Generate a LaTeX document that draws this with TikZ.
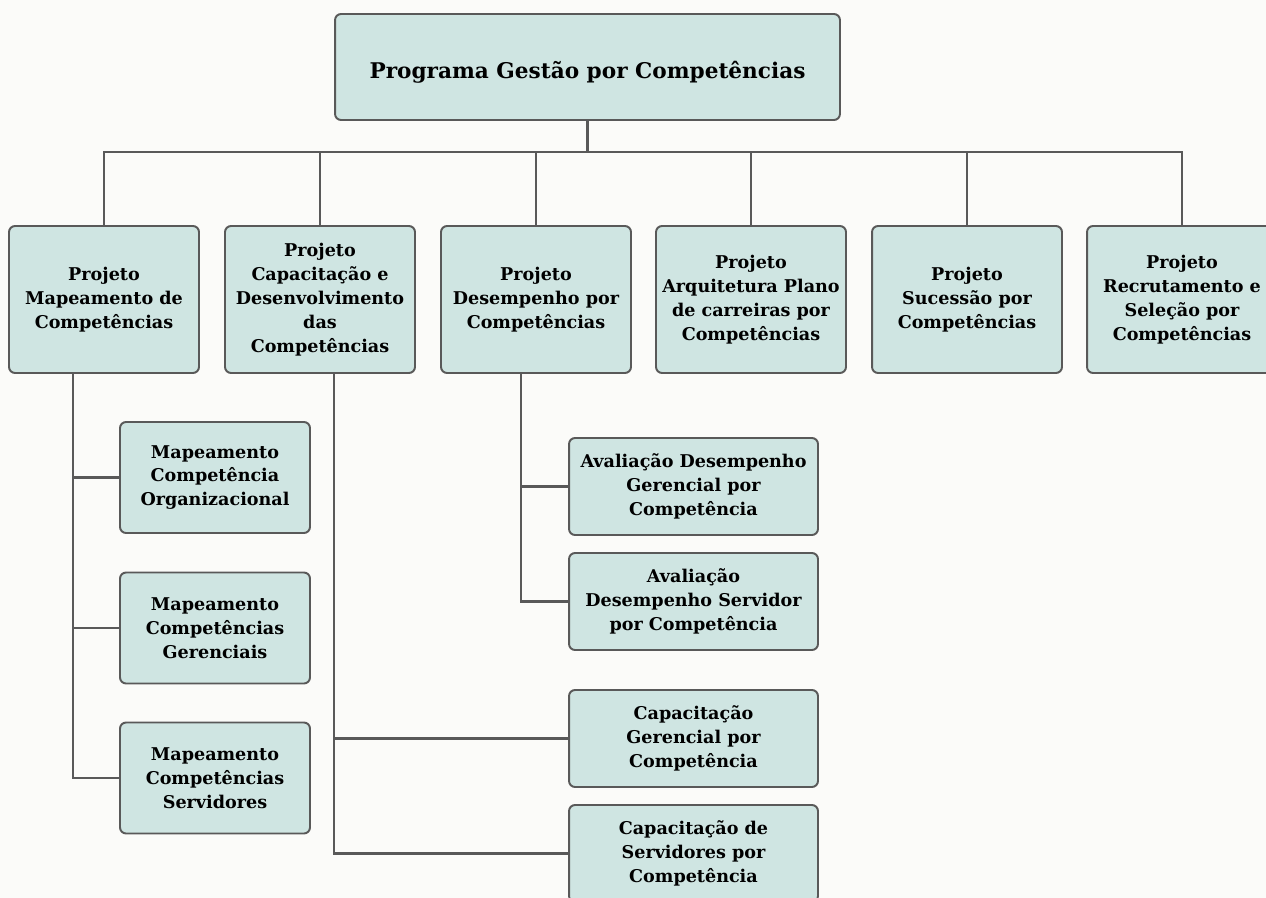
\documentclass[tikz,border=0pt]{standalone}
\usepackage{fontspec}
\setmainfont{DejaVu Serif}
\usepackage{tikz}
\usetikzlibrary{calc,positioning}
\definecolor{boxfill}{HTML}{CFE5E2}
\definecolor{boxline}{HTML}{595959}
\definecolor{paper}{HTML}{FBFBF9}

\begin{document}
\begin{tikzpicture}[x=0.02cm,y=-0.02cm,
    box/.style={draw=boxline, fill=boxfill, line width=1.1pt, rounded corners=0.12cm,
        align=center, inner sep=2pt, font=\bfseries\fontsize{10}{13.6}\selectfont},
    projbox/.style={box, minimum width=3.8cm, minimum height=2.94cm},
    mapbox/.style={box, minimum width=3.8cm, minimum height=2.22cm},
    subbox/.style={box, minimum width=4.98cm, minimum height=1.94cm},
    link/.style={draw=boxline, line width=1.5pt}]
    % page
    \clip (0,0) rectangle (1266,898);
    \fill[paper] (0,0) rectangle (1266,898);

    % programme
    \node[box, minimum width=10.1cm, minimum height=2.12cm] (top) at (587.5,67) {};
    \node[font=\bfseries\fontsize{12.3}{15}\selectfont] (title) at (587.5,72) {Programa Gestão por Competências};

    % projects
    \node[projbox] (p1) at (104,299.5) {Projeto\\Mapeamento de\\Competências};
    \node[projbox] (p2) at (320,299.5) {Projeto\\Capacitação e\\Desenvolvimento\\das\\Competências};
    \node[projbox] (p3) at (536,299.5) {Projeto\\Desempenho por\\Competências};
    \node[projbox] (p4) at (751,299.5) {Projeto\\Arquitetura Plano\\de carreiras por\\Competências};
    \node[projbox] (p5) at (967,299.5) {Projeto\\Sucessão por\\Competências};
    \node[projbox] (p6) at (1182,299.5) {Projeto\\Recrutamento e\\Seleção por\\Competências};

    \coordinate (hub) at (587.5,152);
    \foreach \i in {1,...,6}
        \draw[link] (top.south) -- (hub) -| (p\i.north);

    % mapping
    \node[mapbox] (m1) at (215,477.5) {Mapeamento\\Competência\\Organizacional};
    \node[mapbox] (m2) at (215,628) {Mapeamento\\Competências\\Gerenciais};
    \node[mapbox] (m3) at (215,778) {Mapeamento\\Competências\\Servidores};
    \coordinate (t1) at ($(p1.south west)+(65,0)$);
    \foreach \j in {1,2,3}
        \draw[link] (t1) |- (m\j.west);

    % performance
    \node[subbox] (d1) at (693.5,486.5) {Avaliação Desempenho\\Gerencial por\\Competência};
    \node[subbox] (d2) at (693.5,601.5) {Avaliação\\Desempenho Servidor\\por Competência};
    \coordinate (t3) at ($(p3.south west)+(81,0)$);
    \foreach \j in {1,2}
        \draw[link] (t3) |- (d\j.west);

    % training
    \node[subbox] (c1) at (693.5,738.5) {Capacitação\\Gerencial por\\Competência};
    \node[subbox] (c2) at (693.5,853.5) {Capacitação de\\Servidores por\\Competência};
    \coordinate (t2) at ($(p2.south west)+(110,0)$);
    \foreach \j in {1,2}
        \draw[link] (t2) |- (c\j.west);
\end{tikzpicture}
\end{document}
